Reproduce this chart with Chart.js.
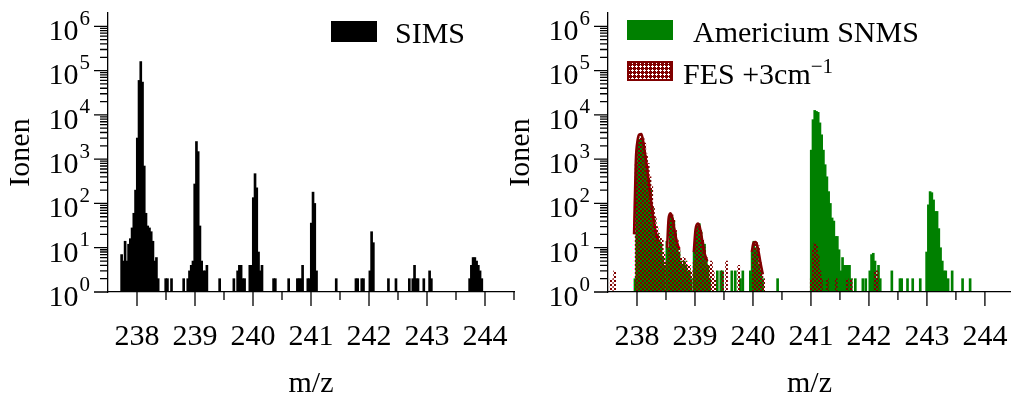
<!DOCTYPE html>
<html><head><meta charset="utf-8">
<script src="https://cdn.jsdelivr.net/npm/chart.js@4.4.0/dist/chart.umd.min.js"></script>
<style>
html,body{margin:0;padding:0;background:#fff;overflow:hidden;width:1011px;height:403px;}
#wrap{position:relative;width:1011px;height:403px;}
canvas{position:absolute;top:0;}
#c1{left:0;}
#c2{left:500px;}
.lg{position:absolute;font-family:'Liberation Serif',serif;font-size:30px;color:#000;line-height:1;white-space:nowrap;}
.lg sup{font-size:21px;position:relative;top:-3px;vertical-align:top;}
.sw{position:absolute;box-sizing:border-box;}
</style></head><body>
<div id="wrap">
<canvas id="c1" width="520" height="403"></canvas>
<canvas id="c2" width="511" height="403"></canvas>
<div class="sw" style="left:331px;top:21px;width:46px;height:21px;background:#000"></div>
<div class="lg" id="lg1" style="left:395px;top:18px;"></div>
<div class="sw" style="left:627px;top:20px;width:46px;height:20px;background:#008000"></div>
<div class="lg" id="lg2" style="left:693px;top:17px;"></div>
<canvas class="sw" id="hsw" width="46" height="20" style="left:627px;top:61px;"></canvas>
<div class="lg" id="lg3" style="left:683px;top:59px;"></div>
</div>
<script>
// ---------- data ----------
const BIN = 0.03;               // histogram bin width (m/z)
const xTickLabels = [238, 239, 240, 241, 242, 243, 244];
const xMinorTicks = [238.5, 239.5, 240.5, 241.5, 242.5, 243.5, 244.5];
const yDecades = [0, 1, 2, 3, 4, 5, 6];

// SIMS histogram: run start (m/z) and counts per bin
const simsStarts = [237.72, 238.48, 238.58, 238.79, 238.86, 239.41, 239.655, 239.72, 239.93, 240.34, 240.60, 240.75, 240.93, 241.42, 241.76, 241.86, 242.00, 242.32, 242.45, 242.68, 242.74, 242.93, 243.03, 243.72];
const simsCounts = [
  [7,5,14,5,12,16,28,60,200,3000,60000,160000,55000,700,60,31,28,23,14,5,6,2],
  [2,2], [2], [2],
  [2,3,4,5,275,2500,1480,31,5,3,3,4],
  [2], [2],
  [3,4,4,2,2],
  [4,4,135,470,225,8,3,4],
  [2,2], [2],
  [2,2,2,4],
  [2,2,36,180,100,3],
  [2], [2,2], [2,2],
  [3,23,13],
  [2], [2], [2],
  [2,4,2,2],
  [2],
  [3,2],
  [2,4,6,6,5,4,3,2]
];

// Americium SNMS histogram
const snmsStarts = [237.95, 238.50, 238.97, 239.37, 239.43, 239.62, 239.68, 239.77, 239.81, 239.94, 240.41, 240.99, 241.75, 241.88, 241.93, 242.00, 242.38, 242.52, 242.65, 242.74, 242.87, 242.98, 243.35, 243.42, 243.60, 243.73];
const snmsCounts = [
  [2,720,2500,2800,3000,2000,1200,700,350,200,80,45,25,20,15,12,6,4],
  [14,10,50,50,40,22,12,8,5,4,5,4,3,3,2],
  [8,23,31,35,23,13,12,5,4,2],
  [3], [3,3], [3], [3], [2], [3],
  [3,8,14,10,8,4,3,2],
  [2],
  [1600,7800,12600,12000,11400,6600,3550,1600,750,400,185,100,47,40,18,18,9,3,6,4,4,4,4,2],
  [2], [2], [2],
  [3,7,7.5,5,2,4,2],
  [3],
  [2,2],
  [2], [2], [2],
  [8,93,185,175,120,66,66,27,10,5,3,3],
  [2], [3], [2], [2]
];

// FES +3 cm^-1 histogram
const fesStarts = [237.54, 237.60, 237.97, 238.53, 238.97, 239.33, 239.46, 239.53, 239.74, 239.99, 240.99, 241.27, 241.42, 241.61, 241.68, 242.09, 242.13];
const fesCounts = [
  [2], [3],
  [800,2000,3000,3550,3000,2300,1300,800,400,240,85,50,30,21,18,15,8,5],
  [10,55,55,45,25,15,10,6,5,6,5,4,4,3],
  [5,22,30,33,25,15,10,6,4,4,5,3],
  [2], [3], [5], [4],
  [8,12,13,11,5,3,2],
  [2,9,12.6,12,7,3,2],
  [2], [2], [2], [2], [3], [3]
];

// FES smoothed envelope (null = gap between peaks)
const fesFitMz  = [237.95,237.98,238.01,238.04,238.075,238.10,238.13,238.16,238.19,238.22,238.26,238.30,238.36, 238.45, 238.52,238.545,238.575,238.60,238.64,238.68,238.73, 238.85, 238.98,239.01,239.05,239.08,239.12,239.16,239.21, 239.6, 239.98,240.01,240.05,240.09,240.13,240.17];
const fesFitVal = [20,900,2600,3600,3700,2800,1600,850,420,200,75,32,14, null, 10,45,60,52,28,15,9, null, 8,26,35,30,16,8,5, null, 8,13,13.5,9,4.5,2.5];

const legendLeft = ['SIMS'];
const legendRight = ['Americium SNMS', 'FES +3cm', '\u22121'];

// ---------- helpers ----------
function runsToPoints(starts, runs) {
  const pts = [];
  starts.forEach((s, r) => runs[r].forEach((v, i) => pts.push({x: +(s + (i + 0.5) * BIN).toFixed(4), y: v})));
  return pts;
}
function plusTile() {
  const c = document.createElement('canvas');
  c.width = 4; c.height = 4;
  const g = c.getContext('2d');
  g.fillStyle = '#800000';
  g.fillRect(0, 0, 4, 4);
  g.clearRect(1, 0, 1, 3);
  g.clearRect(0, 1, 3, 1);
  return c;
}
function checkTile() {
  const c = document.createElement('canvas');
  c.width = 4; c.height = 4;
  const g = c.getContext('2d');
  g.fillStyle = '#800000';
  g.fillRect(0, 0, 4, 4);
  g.clearRect(0, 0, 2, 2);
  g.clearRect(2, 2, 2, 2);
  return c;
}
const FONT = 'Liberation Serif';

// legend hatched swatch
(function () {
  const c = document.getElementById('hsw');
  const g = c.getContext('2d');
  g.fillStyle = '#fff'; g.fillRect(0, 0, 46, 20);
  g.fillStyle = g.createPattern(plusTile(), 'repeat');
  g.fillRect(0, 0, 46, 20);
  g.strokeStyle = '#800000'; g.lineWidth = 2;
  g.strokeRect(1, 1, 44, 18);
})();

const axisDecor = {
  id: 'axisDecor',
  afterDraw(chart) {
    const {ctx, scales: {x, y}, chartArea: a} = chart;
    ctx.save();
    ctx.strokeStyle = '#000';
    ctx.lineWidth = 1.3;
    ctx.beginPath();
    xTickLabels.forEach(v => {
      if (v < x.min || v > x.max) return;
      const px = x.getPixelForValue(v);
      ctx.moveTo(px, a.bottom); ctx.lineTo(px, a.bottom + 14);
    });
    xMinorTicks.forEach(v => {
      if (v < x.min || v > x.max) return;
      const px = x.getPixelForValue(v);
      ctx.moveTo(px, a.bottom); ctx.lineTo(px, a.bottom + 8);
    });
    yDecades.forEach(k => {
      const base = Math.pow(10, k);
      const py = y.getPixelForValue(base);
      ctx.moveTo(a.left - 14, py); ctx.lineTo(a.left, py);
      if (k < 6) {
        for (let m = 2; m <= 9; m++) {
          const pm = y.getPixelForValue(base * m);
          ctx.moveTo(a.left - 8, pm); ctx.lineTo(a.left, pm);
        }
      }
    });
    ctx.stroke();
    // y tick labels 10^k
    ctx.fillStyle = '#000';
    ctx.textBaseline = 'middle';
    yDecades.forEach(k => {
      const py = y.getPixelForValue(Math.pow(10, k));
      const right = a.left - 18;
      ctx.font = '21px "' + FONT + '"';
      const sw = ctx.measureText(String(k)).width;
      ctx.textAlign = 'left';
      ctx.fillText(String(k), right - sw, py - 7);
      ctx.font = '30px "' + FONT + '"';
      ctx.textAlign = 'right';
      ctx.fillText('10', right - sw - 1, py + 6);
    });
    ctx.restore();
  }
};

function makeOptions(xMax, padRight) {
  return {
    responsive: false,
    animation: false,
    events: [],
    layout: {padding: {left: 0, top: 13, right: padRight, bottom: 0}},
    plugins: {legend: {display: false}, tooltip: {enabled: false}},
    scales: {
      x: {
        type: 'linear', min: 237.5, max: xMax, offset: false,
        grid: {display: false, drawTicks: false},
        border: {display: true, color: '#000', width: 1.3, z: 1},
        afterBuildTicks: s => { s.ticks = xTickLabels.map(v => ({value: v})); },
        ticks: {padding: 27, color: '#000', font: {family: FONT, size: 30}, maxRotation: 0, autoSkip: false,
                callback: v => String(v)},
        title: {display: true, text: 'm/z', color: '#000', font: {family: FONT, size: 30}, padding: {top: 0, bottom: 1}},
        afterFit: s => { s.height = 111; s.paddingLeft = 0; s.paddingRight = 0; }
      },
      y: {
        type: 'logarithmic', min: 1, max: 2e6,
        grid: {display: false, drawTicks: false},
        border: {display: true, color: '#000', width: 1.3, z: 1},
        ticks: {display: false},
        title: {display: true, text: 'Ionen', color: '#000', font: {family: FONT, size: 30}, padding: {top: 3, bottom: 0}},
        afterFit: s => { s.width = 108; s.paddingTop = 0; s.paddingBottom = 0; }
      }
    }
  };
}

document.getElementById('lg1').textContent = legendLeft[0];
document.getElementById('lg2').textContent = legendRight[0];
document.getElementById('lg3').innerHTML = legendRight[1] + '<sup>' + legendRight[2] + '</sup>';

new Chart(document.getElementById('c1'), {
  type: 'bar',
  data: {datasets: [{
    label: legendLeft[0], data: runsToPoints(simsStarts, simsCounts),
    backgroundColor: '#000', borderWidth: 0, barThickness: 2, grouped: false
  }]},
  options: makeOptions(244.5, 6),
  plugins: [axisDecor]
});

const chart2 = document.getElementById('c2');
new Chart(chart2, {
  type: 'bar',
  data: {datasets: [
    {type: 'line', label: 'FES fit', data: fesFitMz.map((m, i) => ({x: m, y: fesFitVal[i]})),
     borderColor: '#800000', borderWidth: 2.6, pointRadius: 0, fill: false, spanGaps: false,
     cubicInterpolationMode: 'monotone', order: 0},
    {label: legendRight[1] + legendRight[2], data: runsToPoints(fesStarts, fesCounts),
     backgroundColor: chart2.getContext('2d').createPattern(checkTile(), 'repeat'),
     borderWidth: 0, barThickness: 2, grouped: false, order: 1},
    {label: legendRight[0], data: runsToPoints(snmsStarts, snmsCounts),
     backgroundColor: '#008000', borderWidth: 0, barThickness: 2, grouped: false, order: 2}
  ]},
  options: makeOptions(244.45, 0),
  plugins: [axisDecor]
});
</script>
</body></html>
